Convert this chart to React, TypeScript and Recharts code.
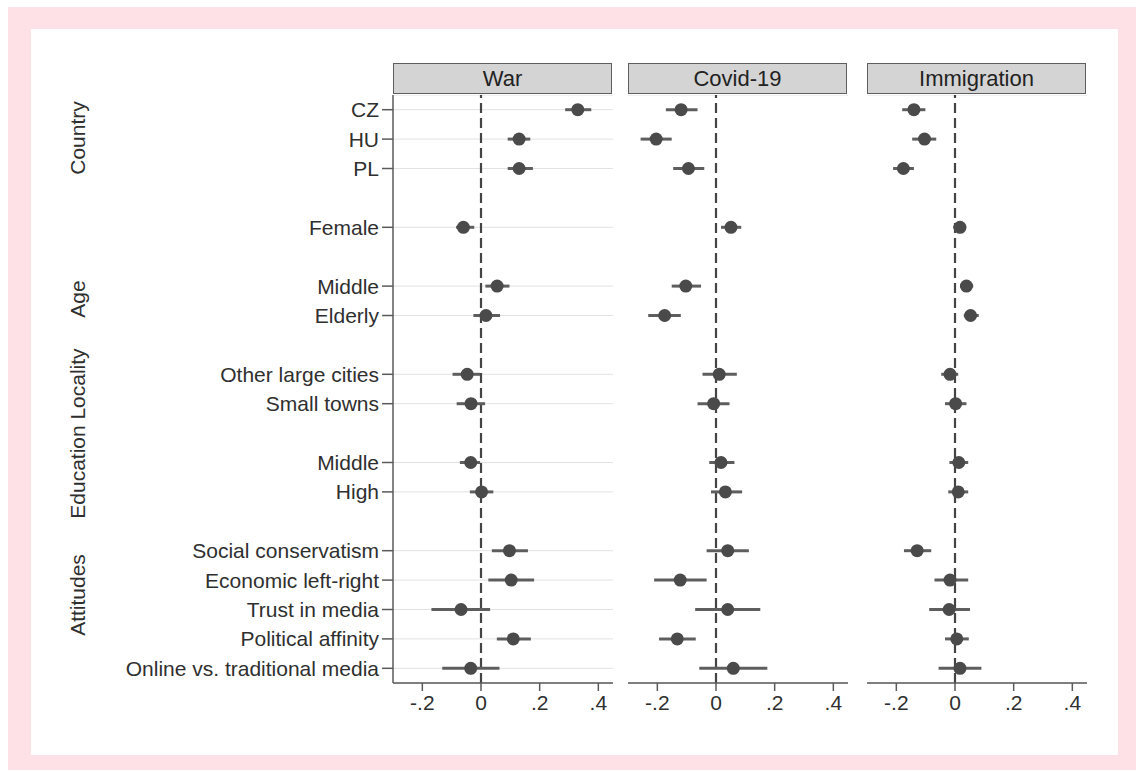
import React from "react"
import {
  CartesianGrid,
  ErrorBar,
  ReferenceLine,
  Scatter,
  ScatterChart,
  XAxis,
  YAxis,
} from "recharts"

// row labels top-to-bottom; null marks a blank spacer row between groups
const rowLabels: (string | null)[] = [
  "CZ", "HU", "PL", null,
  "Female", null,
  "Middle", "Elderly", null,
  "Other large cities", "Small towns", null,
  "Middle", "High", null,
  "Social conservatism", "Economic left-right", "Trust in media",
  "Political affinity", "Online vs. traditional media",
]

const groupLabels = ["Country", "Age", "Locality", "Education", "Attitudes"]

const panelTitles = ["War", "Covid-19", "Immigration"]

const warEst = [0.33, 0.13, 0.13, -0.06, 0.055, 0.017, -0.047, -0.034, -0.035, 0.002, 0.097, 0.103, -0.068, 0.11, -0.035]
const warLo = [0.287, 0.091, 0.091, -0.085, 0.015, -0.026, -0.097, -0.083, -0.072, -0.038, 0.037, 0.025, -0.169, 0.054, -0.132]
const warHi = [0.376, 0.168, 0.177, -0.023, 0.097, 0.065, -0.003, 0.014, -0.003, 0.042, 0.16, 0.181, 0.031, 0.17, 0.063]

const covidEst = [-0.119, -0.204, -0.094, 0.051, -0.103, -0.175, 0.011, -0.008, 0.017, 0.032, 0.04, -0.122, 0.04, -0.132, 0.059]
const covidLo = [-0.171, -0.257, -0.146, 0.017, -0.151, -0.231, -0.046, -0.063, -0.023, -0.017, -0.032, -0.211, -0.071, -0.194, -0.057]
const covidHi = [-0.063, -0.151, -0.04, 0.086, -0.051, -0.12, 0.071, 0.046, 0.063, 0.089, 0.112, -0.032, 0.151, -0.069, 0.175]

const immEst = [-0.14, -0.104, -0.176, 0.017, 0.039, 0.053, -0.017, 0.002, 0.013, 0.011, -0.129, -0.017, -0.02, 0.006, 0.017]
const immLo = [-0.18, -0.146, -0.211, -0.006, 0.017, 0.03, -0.047, -0.034, -0.019, -0.023, -0.174, -0.07, -0.088, -0.034, -0.056]
const immHi = [-0.101, -0.064, -0.14, 0.037, 0.062, 0.081, 0.011, 0.039, 0.045, 0.045, -0.081, 0.045, 0.051, 0.047, 0.09]

const xTicks = [-0.2, 0, 0.2, 0.4]

const FONT = '"Liberation Sans", Arial, sans-serif'
const TEXT = "#2f2f2f"
const MARK = "#4a4a4a"

// row index of each non-spacer label
const rows = rowLabels
  .map((l, i) => (l === null ? -1 : i))
  .filter((i) => i >= 0)

const buildPoints = (est: number[], lo: number[], hi: number[]) =>
  est.map((e, k) => ({ row: rows[k], est: e, ci: [e - lo[k], hi[k] - e] }))

const panels = [
  buildPoints(warEst, warLo, warHi),
  buildPoints(covidEst, covidLo, covidHi),
  buildPoints(immEst, immLo, immHi),
]

const fmtX = (v: number) => {
  if (v === 0) return "0"
  const s = Math.abs(v).toFixed(1).replace(/^0/, "")
  return v < 0 ? "-" + s : s
}

const PLOT_W = 220
const PLOT_H = 588
const PLOT_TOP = 95
const X_AXIS_H = 40
const Y_AXIS_W = 290
const panelLeft = [393, 628, 867]
const groupY = [138, 299, 384, 472, 595]

function Dot(props: any) {
  return <circle cx={props.cx} cy={props.cy} r={6.5} fill={MARK} />
}

function Panel({ idx }: { idx: number }) {
  const first = idx === 0
  const yw = first ? Y_AXIS_W : 0
  return (
    <div
      style={{
        position: "absolute",
        left: panelLeft[idx] - yw,
        top: PLOT_TOP,
        fontFamily: FONT,
      }}
    >
      <ScatterChart
        width={PLOT_W + yw}
        height={PLOT_H + X_AXIS_H}
        margin={{ top: 0, right: 0, bottom: 0, left: 0 }}
      >
        <CartesianGrid horizontal vertical={false} stroke="#e2e2e2" strokeWidth={1} />
        <XAxis
          type="number"
          dataKey="est"
          domain={[-0.3, 0.45]}
          ticks={xTicks}
          allowDataOverflow
          tickFormatter={fmtX}
          height={X_AXIS_H}
          axisLine={{ stroke: "#5a5a5a", strokeWidth: 1.5 }}
          tickLine={{ stroke: "#5a5a5a", strokeWidth: 1.5 }}
          tickSize={8}
          tickMargin={4}
          tick={{ fill: TEXT, fontSize: 21, fontFamily: FONT }}
        />
        <YAxis
          type="number"
          dataKey="row"
          domain={[-0.5, 19.5]}
          reversed
          ticks={rows}
          interval={0}
          allowDataOverflow
          width={yw}
          tickFormatter={(v: number) => rowLabels[v] ?? ""}
          axisLine={first ? { stroke: "#5a5a5a", strokeWidth: 1.5 } : false}
          tickLine={first ? { stroke: "#5a5a5a", strokeWidth: 1.5 } : false}
          tick={first ? { fill: TEXT, fontSize: 21, fontFamily: FONT } : false}
          tickSize={11}
          tickMargin={3}
        />
        <ReferenceLine x={0} stroke="#444444" strokeWidth={2.2} strokeDasharray="10 5" />
        <Scatter
          data={panels[idx]}
          isAnimationActive={false}
          shape={<Dot />}
        >
          <ErrorBar
            dataKey="ci"
            direction="x"
            width={0}
            stroke="#5e5e5e"
            strokeWidth={3}
            isAnimationActive={false}
          />
        </Scatter>
      </ScatterChart>
    </div>
  )
}

export default function App() {
  return (
    <div
      style={{
        position: "fixed",
        left: 0,
        top: 0,
        width: 1143,
        height: 771,
        background: "#ffffff",
        fontFamily: FONT,
      }}
    >
      <div
        style={{
          position: "absolute",
          left: 8,
          top: 7,
          width: 1128,
          height: 763,
          background: "#fde1e6",
        }}
      />
      <div
        style={{
          position: "absolute",
          left: 31,
          top: 29,
          width: 1087,
          height: 726,
          background: "#ffffff",
        }}
      />
      {panelTitles.map((t, i) => (
        <div
          key={t}
          style={{
            position: "absolute",
            left: panelLeft[i],
            top: 63,
            width: PLOT_W - 3,
            height: 29,
            background: "#d4d4d4",
            border: "1.5px solid #5e5e5e",
            color: "#222",
            fontSize: 22,
            lineHeight: "29px",
            textAlign: "center",
          }}
        >
          {t}
        </div>
      ))}
      {groupLabels.map((g, i) => (
        <div
          key={g}
          style={{
            position: "absolute",
            left: 78,
            top: groupY[i],
            transform: "translate(-50%, -50%) rotate(-90deg)",
            color: TEXT,
            fontSize: 21,
            whiteSpace: "nowrap",
          }}
        >
          {g}
        </div>
      ))}
      {panelTitles.map((t, i) => (
        <Panel key={t} idx={i} />
      ))}
    </div>
  )
}
